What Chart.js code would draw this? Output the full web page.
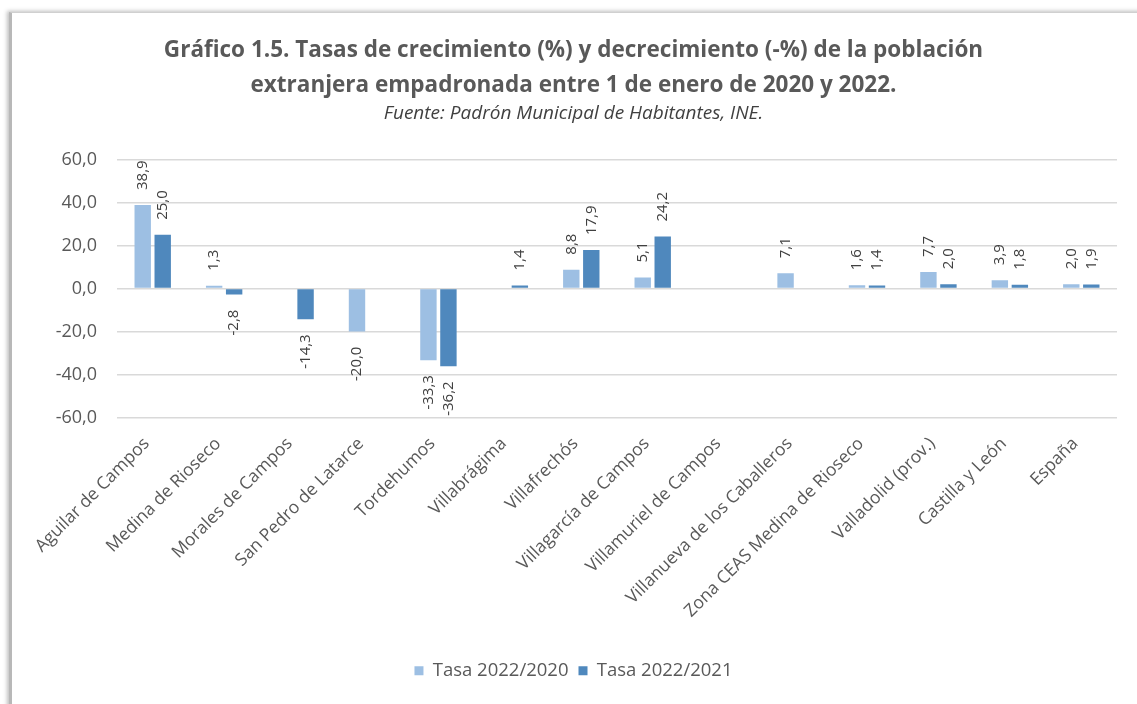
<html>
  <head>
    <script src="https://cdn.jsdelivr.net/npm/chart.js@4.4.1/dist/chart.umd.min.js"></script>
    <style>
      body {
        margin: 0;
        background: #ffffff;
        overflow: hidden;
      }
      .frame {
        position: absolute;
        left: 9px;
        top: 12px;
        width: 1200px;
        height: 800px;
        border-left: 3px solid #b8b8b8;
        border-top: 1px solid #d0d0d0;
        box-shadow: -2px -1px 4px rgba(0, 0, 0, 0.25);
      }
      #wrap {
        position: absolute;
        left: 0;
        top: 0;
        width: 1137px;
        height: 704px;
      }
    </style>
  </head>
  <body>
    <div class="frame"></div>
    <div id="wrap"><canvas id="chart"></canvas></div>

    <script>
      const categories = [
        "Aguilar de Campos",
        "Medina de Rioseco",
        "Morales de Campos",
        "San Pedro de Latarce",
        "Tordehumos",
        "Villabrágima",
        "Villafrechós",
        "Villagarcía de Campos",
        "Villamuriel de Campos",
        "Villanueva de los Caballeros",
        "Zona CEAS Medina de Rioseco",
        "Valladolid (prov.)",
        "Castilla y León",
        "España",
      ];
      const tasa_2020 = [38.9, 1.3, null, -20.0, -33.3, null, 8.8, 5.1, null, 7.1, 1.6, 7.7, 3.9, 2.0];
      const tasa_2021 = [25.0, -2.8, -14.3, null, -36.2, 1.4, 17.9, 24.2, null, null, 1.4, 2.0, 1.8, 1.9];
      const y_ticks = [-60, -40, -20, 0, 20, 40, 60];

      const font_family = "'Open Sans', sans-serif";
      const text_color = "#595959";

      const fmt = (v) => v.toFixed(1).replace(".", ",");

      // rotated value labels above / below each bar
      const value_labels = {
        id: "value_labels",
        afterDatasetsDraw: (chart) => {
          const ctx = chart.ctx;
          ctx.save();
          ctx.font = `15px ${font_family}`;
          ctx.fillStyle = "#404040";
          ctx.textBaseline = "middle";
          chart.data.datasets.forEach((ds, i) => {
            const meta = chart.getDatasetMeta(i);
            meta.data.forEach((bar, j) => {
              const v = ds.data[j];
              if (v === null) return;
              const top = Math.min(bar.y, bar.base);
              const bottom = Math.max(bar.y, bar.base);
              ctx.save();
              if (v >= 0) {
                ctx.translate(bar.x, top - 15);
                ctx.rotate(-Math.PI / 2);
                ctx.textAlign = "left";
              } else {
                ctx.translate(bar.x, bottom + 15);
                ctx.rotate(-Math.PI / 2);
                ctx.textAlign = "right";
              }
              ctx.fillText(fmt(v), 0, 0);
              ctx.restore();
            });
          });
          ctx.restore();
        },
      };

      new Chart(document.getElementById("chart"), {
        type: "bar",
        data: {
          labels: categories,
          datasets: [
            {
              label: "Tasa 2022/2020",
              data: tasa_2020,
              backgroundColor: "#9dbfe3",
            },
            {
              label: "Tasa 2022/2021",
              data: tasa_2021,
              backgroundColor: "#4f88bd",
            },
          ],
        },
        options: {
          responsive: true,
          maintainAspectRatio: false,
          animation: false,
          datasets: {
            bar: { categoryPercentage: 0.56, barPercentage: 0.82 },
          },
          layout: { padding: { left: 30, right: 20, top: 0, bottom: 14 } },
          scales: {
            x: {
              grid: { display: false },
              border: { display: false },
              ticks: {
                color: text_color,
                font: { family: font_family, size: 17.5 },
                minRotation: 45,
                maxRotation: 45,
                autoSkip: false,
                padding: 8,
                labelOffset: -6,
              },
              afterFit: (scale) => {
                scale.height = 234;
              },
            },
            y: {
              min: -60,
              max: 60,
              afterBuildTicks: (scale) => {
                scale.ticks = y_ticks.map((v) => ({ value: v }));
              },
              grid: { color: "#d9d9d9", lineWidth: 1.5, drawTicks: false },
              border: { display: false },
              ticks: {
                color: text_color,
                font: { family: font_family, size: 18 },
                padding: 20,
                callback: (v) => fmt(v),
              },
              afterFit: (scale) => {
                scale.width = 87;
              },
            },
          },
          plugins: {
            title: {
              display: true,
              text: [
                "Gráfico 1.5. Tasas de crecimiento (%) y decrecimiento (-%) de la población",
                "extranjera empadronada entre 1 de enero de 2020 y 2022.",
              ],
              color: text_color,
              font: { family: font_family, size: 22.5, weight: "bold", lineHeight: 1.55 },
              padding: { top: 33, bottom: 0 },
            },
            subtitle: {
              display: true,
              text: "Fuente: Padrón Municipal de Habitantes, INE.",
              color: "#404040",
              font: { family: font_family, size: 19, style: "italic", lineHeight: 1.1 },
              padding: { top: 0, bottom: 36 },
            },
            legend: {
              position: "bottom",
              labels: {
                color: text_color,
                font: { family: font_family, size: 18.5 },
                boxWidth: 9,
                boxHeight: 9,
                padding: 10,
              },
            },
            tooltip: { enabled: false },
          },
        },
        plugins: [value_labels],
      });
    </script>
  </body>
</html>
